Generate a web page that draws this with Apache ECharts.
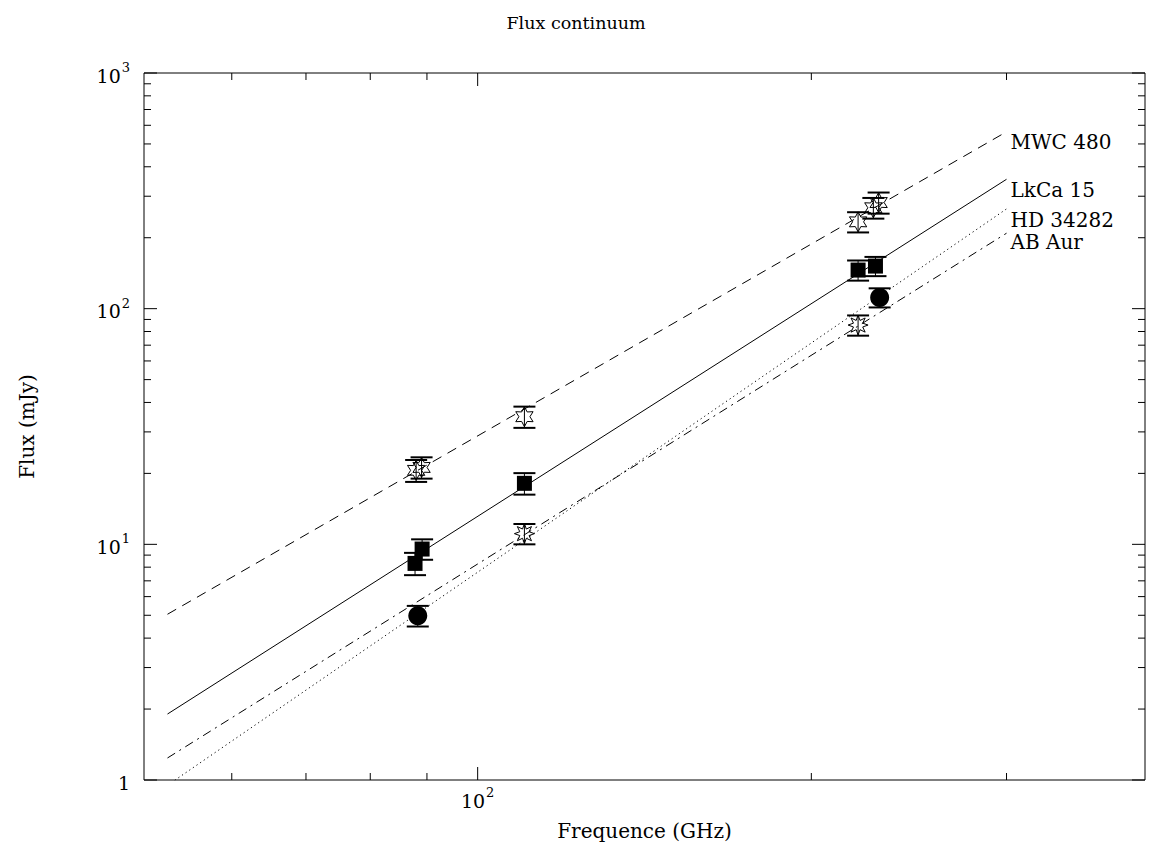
<!DOCTYPE html>
<html><head><meta charset="utf-8">
<script src="https://cdn.jsdelivr.net/npm/echarts@6/dist/echarts.min.js"></script>
<style>html,body{margin:0;padding:0;background:#fff}#c{width:1152px;height:848px}</style>
</head><body><div id="c"></div>
<script>
// ---- data ----
const sourceNames = ['MWC 480', 'LkCa 15', 'HD 34282', 'AB Aur'];
// fitted power laws: endpoints [freq GHz, flux mJy]
const fitMWC = [[52.5, 5.05], [300, 563]];
const fitLkCa = [[52.5, 1.905], [300, 354]];
const fitHD = [[52.5, 0.95], [300, 265]];
const fitAB = [[52.5, 1.24], [300, 209]];
// observations
const freqMWC = [88.0, 89.0, 110.2, 220.4, 227.5, 230.0];
const fluxMWC = [20.6, 21.2, 34.8, 233.6, 268, 282];
const errMWC = [2.2, 2.2, 3.6, 23, 27, 29];
const freqLkCa = [87.8, 89.1, 110.2, 220.4, 228.5];
const fluxLkCa = [8.3, 9.55, 18.15, 145.8, 151.6];
const errLkCa = [0.9, 0.95, 1.9, 14.3, 14.2];
const freqHD = [110.2, 220.4];
const fluxHD = [11.1, 85.2];
const errHD = [1.1, 8.4];
const freqAB = [88.3, 230.5];
const fluxAB = [4.98, 111.6];
const errAB = [0.5, 10.4];
// axis ticks
const xMajorTicks = [100];
const xMinorTicks = [60, 70, 80, 90, 200, 300];
const yMajorTicks = [1, 10, 100, 1000];
const yMinorTicks = [2, 3, 4, 5, 6, 7, 8, 9, 20, 30, 40, 50, 60, 70, 80, 90, 200, 300, 400, 500, 600, 700, 800, 900];

// ---- helpers ----
const FONT = 'DejaVu Serif';
function starPath(n, inner) {
  let d = '';
  for (let i = 0; i < 2 * n; i++) {
    const a = -Math.PI / 2 + i * Math.PI / n;
    const r = i % 2 === 0 ? 1 : inner;
    const x = (r * Math.cos(a) * 100).toFixed(2), y = (r * Math.sin(a) * 100).toFixed(2);
    d += (i === 0 ? 'M' : 'L') + x + ' ' + y + ' ';
  }
  return 'path://' + d + 'Z';
}
const zip = (f, v) => f.map((x, i) => [x, v[i]]);
const zip3 = (f, v, e) => f.map((x, i) => [x, v[i], e[i]]);

function errorBarSeries(f, v, e) {
  return {
    type: 'custom', data: zip3(f, v, e), z: 3, silent: true,
    renderItem(params, api) {
      const x = api.value(0), y = api.value(1), er = api.value(2);
      const lo = api.coord([x, y - er]), hi = api.coord([x, y + er]);
      const hw = 11;
      const st = { stroke: '#000', lineWidth: 1 };
      const cap = { stroke: '#000', lineWidth: 2 };
      return { type: 'group', children: [
        { type: 'line', shape: { x1: lo[0], y1: lo[1], x2: hi[0], y2: hi[1] }, style: st },
        { type: 'line', shape: { x1: lo[0] - hw, y1: lo[1], x2: lo[0] + hw, y2: lo[1] }, style: cap },
        { type: 'line', shape: { x1: hi[0] - hw, y1: hi[1], x2: hi[0] + hw, y2: hi[1] }, style: cap }
      ]};
    }
  };
}
function fitSeries(name, data, dash, lblOffset) {
  return {
    type: 'line', name: name, data: data, showSymbol: false, symbol: 'none', clip: true, z: 2,
    lineStyle: { color: '#000', width: 1, type: dash },
    endLabel: { show: true, formatter: name, offset: lblOffset, color: '#000', fontFamily: FONT, fontSize: 20, lineHeight: 17, distance: 2 },
    silent: true
  };
}
const tickData = []
  .concat(xMajorTicks.map(v => [v, 10, 0]))
  .concat(xMinorTicks.map(v => [v, 10, 1]))
  .concat(yMajorTicks.map(v => [100, v, 2]))
  .concat(yMinorTicks.map(v => [100, v, 3]));

const sup = { b: { fontSize: 19, fontFamily: FONT, color: '#000', lineHeight: 24, verticalAlign: 'bottom' },
              s: { fontSize: 13, fontFamily: FONT, color: '#000', lineHeight: 24, verticalAlign: 'top', padding: [0, 0, 0, 1] } };
function powLabel(v) {
  const e = Math.round(Math.log10(v));
  if (Math.abs(Math.pow(10, e) - v) / v > 1e-6) return '';
  if (e === 0) return '{b|1}';
  return '{b|10}{s|' + e + '}';
}

const chart = echarts.init(document.getElementById('c'), null, { renderer: 'svg' });
chart.setOption({
  animation: false,
  backgroundColor: '#fff',
  title: { text: 'Flux continuum', left: 'center', top: 9, textStyle: { fontFamily: FONT, fontSize: 17.5, fontWeight: 'normal', color: '#000' } },
  grid: { left: 144, right: 7, top: 73, bottom: 68, show: true, borderColor: '#000', borderWidth: 1, backgroundColor: 'transparent' },
  xAxis: {
    type: 'log', logBase: 10, min: 50, max: 400,
    name: 'Frequence (GHz)', nameLocation: 'middle', nameGap: 41,
    nameTextStyle: { fontFamily: FONT, fontSize: 20, color: '#000' },
    axisLine: { show: false }, axisTick: { show: false }, splitLine: { show: false },
    axisLabel: { formatter: powLabel, rich: sup, margin: 6, showMinLabel: false, showMaxLabel: false }
  },
  yAxis: {
    type: 'log', logBase: 10, min: 1, max: 1000,
    name: 'Flux (mJy)', nameLocation: 'middle', nameGap: 107, nameRotate: 90,
    nameTextStyle: { fontFamily: FONT, fontSize: 20, color: '#000' },
    axisLine: { show: false }, axisTick: { show: false }, splitLine: { show: false },
    axisLabel: { formatter: powLabel, rich: sup, margin: 14 }
  },
  series: [
    {
      type: 'custom', data: tickData, silent: true, z: 1, clip: false,
      renderItem(params, api) {
        const cs = params.coordSys;
        const kind = api.value(2);
        const len = (kind === 0 || kind === 2) ? 13 : 7;
        const st = { stroke: '#000', lineWidth: 1 };
        if (kind < 2) {
          const x = api.coord([api.value(0), 10])[0];
          return { type: 'group', children: [
            { type: 'line', shape: { x1: x, y1: cs.y + cs.height, x2: x, y2: cs.y + cs.height - len }, style: st },
            { type: 'line', shape: { x1: x, y1: cs.y, x2: x, y2: cs.y + len }, style: st }
          ]};
        }
        const y = api.coord([100, api.value(1)])[1];
        return { type: 'group', children: [
          { type: 'line', shape: { x1: cs.x, y1: y, x2: cs.x + len, y2: y }, style: st },
          { type: 'line', shape: { x1: cs.x + cs.width, y1: y, x2: cs.x + cs.width - len, y2: y }, style: st }
        ]};
      }
    },
    fitSeries(sourceNames[0], fitMWC, [10, 7], [2, 10]),
    fitSeries(sourceNames[1], fitLkCa, 'solid', [2, 11]),
    fitSeries(sourceNames[2], fitHD, [1.2, 3.2], [2, 11]),
    fitSeries(sourceNames[3], fitAB, [9, 5, 2, 5], [2, 9]),
    errorBarSeries(freqMWC, fluxMWC, errMWC),
    errorBarSeries(freqLkCa, fluxLkCa, errLkCa),
    errorBarSeries(freqHD, fluxHD, errHD),
    errorBarSeries(freqAB, fluxAB, errAB),
    { type: 'scatter', name: sourceNames[0], data: zip(freqMWC, fluxMWC), symbol: starPath(6, 0.55), symbolSize: 20, symbolKeepAspect: true, z: 4,
      itemStyle: { color: 'rgba(0,0,0,0)', borderColor: '#000', borderWidth: 1, opacity: 1 } },
    { type: 'scatter', name: sourceNames[1], data: zip(freqLkCa, fluxLkCa), symbol: 'rect', symbolSize: 15, z: 4,
      itemStyle: { color: '#000', opacity: 1 } },
    { type: 'scatter', name: sourceNames[2], data: zip(freqHD, fluxHD), symbol: starPath(8, 0.5), symbolSize: 20, symbolKeepAspect: true, z: 4,
      itemStyle: { color: 'rgba(0,0,0,0)', borderColor: '#000', borderWidth: 1, opacity: 1 } },
    { type: 'scatter', name: sourceNames[3], data: zip(freqAB, fluxAB), symbol: 'circle', symbolSize: 19, z: 4,
      itemStyle: { color: '#000', opacity: 1 } }
  ]
});
</script></body></html>
